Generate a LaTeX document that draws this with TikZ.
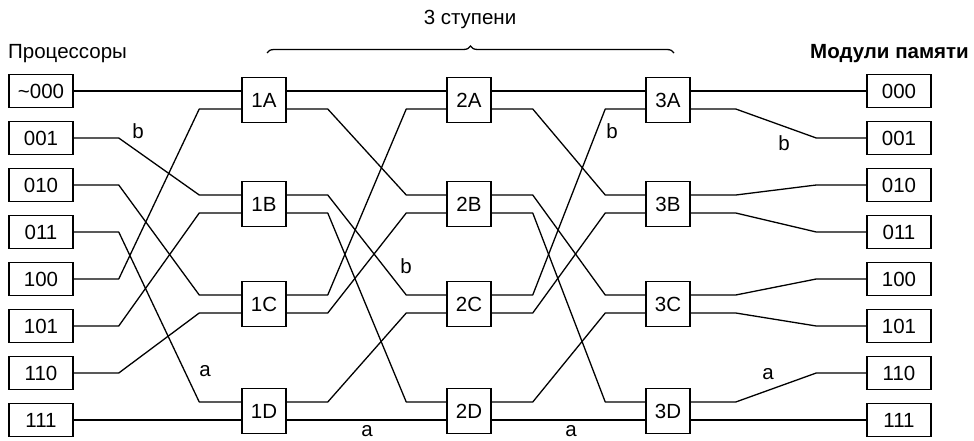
\documentclass[tikz,border=0pt]{standalone}
\usepackage{fontspec}
\setmainfont{Liberation Sans}
\usetikzlibrary{decorations.pathreplacing}
\begin{document}
\begin{tikzpicture}[x=1pt,y=-1pt,
  every node/.style={font=\fontsize{20.5}{24}\selectfont},
  procbox/.style={draw, line width=1.5pt, minimum width=64pt, minimum height=33pt, inner sep=0pt},
  swbox/.style={draw, line width=1.5pt, minimum width=44pt, minimum height=45pt, inner sep=0pt},
  wire/.style={line width=1.3pt, line join=round},
  lbl/.style={inner sep=0pt}]
\useasboundingbox (0,0) rectangle (974,441);
\newcommand\wire[4]{\draw[wire] (#1) -- ++(#3,0) -- ([xshift=-#4pt]#2) -- (#2);}
% titles
\node[anchor=base west, inner sep=0pt] (tproc) at (8,59) {Процессоры};
\node[anchor=base east, inner sep=0pt, font=\fontsize{20.5}{24}\selectfont\bfseries] (tmem) at (969,59) {Модули памяти};
\node[anchor=base, inner sep=0pt] (tst) at (470,25) {3 ступени};
\draw[line width=1.3pt, decorate, decoration={brace, amplitude=7pt}] (267,53) -- (674,53);
% processors and memories
\foreach \n/\t [count=\i from 0] in {0/\textasciitilde000,1/001,2/010,3/011,4/100,5/101,6/110,7/111}{
  \node[procbox] (p\n) at (41,91+47*\i) {\t};
}
\foreach \n/\t [count=\i from 0] in {0/000,1/001,2/010,3/011,4/100,5/101,6/110,7/111}{
  \node[procbox] (m\n) at (899,91+47*\i) {\t};
}
% switches
\foreach \s/\x in {1/264,2/469,3/668}{
  \foreach \r/\y in {A/100,B/204,C/304,D/411}{
    \node[swbox] (s\s\r) at (\x,\y) {\s\r};
    \coordinate (s\s\r i0) at ([yshift=9pt]s\s\r.west);
    \coordinate (s\s\r i1) at ([yshift=-9pt]s\s\r.west);
    \coordinate (s\s\r o0) at ([yshift=9pt]s\s\r.east);
    \coordinate (s\s\r o1) at ([yshift=-9pt]s\s\r.east);
  }
}
% stage 0
\draw[wire] (p0.east) -- (s1Ai0);
\wire{p4.east}{s1Ai1}{45}{42}
\wire{p1.east}{s1Bi0}{45}{42}
\wire{p5.east}{s1Bi1}{45}{42}
\wire{p2.east}{s1Ci0}{45}{42}
\wire{p6.east}{s1Ci1}{45}{42}
\wire{p3.east}{s1Di0}{45}{42}
\draw[wire] (p7.east) -- (s1Di1);
% stage 1 -> 2 and 2 -> 3
\foreach \a/\b in {1/2,2/3}{
  \draw[wire] (s\a Ao0) -- (s\b Ai0);
  \wire{s\a Ao1}{s\b Bi0}{41}{40}
  \wire{s\a Bo0}{s\b Ci0}{41}{40}
  \wire{s\a Bo1}{s\b Di0}{41}{40}
  \wire{s\a Co0}{s\b Ai1}{41}{40}
  \wire{s\a Co1}{s\b Bi1}{41}{40}
  \wire{s\a Do0}{s\b Ci1}{41}{40}
  \draw[wire] (s\a Do1) -- (s\b Di1);
}
% stage 3 -> memory
\draw[wire] (s3Ao0) -- (m0.west);
\wire{s3Ao1}{m1.west}{45}{50}
\wire{s3Bo0}{m2.west}{45}{50}
\wire{s3Bo1}{m3.west}{45}{50}
\wire{s3Co0}{m4.west}{45}{50}
\wire{s3Co1}{m5.west}{45}{50}
\wire{s3Do0}{m6.west}{45}{50}
\draw[wire] (s3Do1) -- (m7.west);
% labels
\node[lbl] (lb1) at (138,131) {b};
\node[lbl] (la1) at (205,371) {a};
\node[lbl] (lb2) at (406,266) {b};
\node[lbl] (la2) at (367,431) {a};
\node[lbl] (lb3) at (612,131) {b};
\node[lbl] (la3) at (571,431) {a};
\node[lbl] (lb4) at (784,143) {b};
\node[lbl] (la4) at (768,374) {a};
\end{tikzpicture}
\end{document}
